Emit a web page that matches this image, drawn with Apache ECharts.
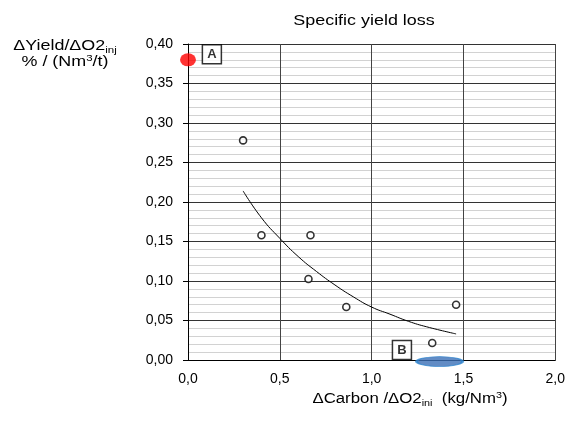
<!DOCTYPE html>
<html><head><meta charset="utf-8">
<script src="https://cdn.jsdelivr.net/npm/echarts@6/dist/echarts.min.js"></script>
<style>html,body{margin:0;padding:0;background:#fff}#c{width:568px;height:421px}</style>
</head><body><div id="c"></div>
<script>
// measured points (ΔCarbon/ΔO2, ΔYield/ΔO2)
const pointX = [0.30, 0.40, 0.667, 0.656, 0.862, 1.33, 1.46];
const pointY = [0.278, 0.158, 0.158, 0.1025, 0.067, 0.0215, 0.070];
// trend line
const trendX = [0.30, 0.40, 0.50, 0.60, 0.70, 0.80, 0.90, 1.00, 1.10, 1.20, 1.30, 1.46];
const trendY = [0.214, 0.180, 0.154, 0.131, 0.112, 0.095, 0.080, 0.067, 0.058, 0.049, 0.042, 0.033];
// reference markers
const refAX = [0.0], refAY = [0.38];
const refBX = [1.37], refBY = [-0.002];
// box labels
const labelNames = ['A', 'B'];
const labelX = [0.13, 1.165];
const labelY = [0.387, 0.0127];
const yTicks = {min: 0, max: 0.4, step: 0.05};
const xTicks = {min: 0, max: 2, step: 0.5};
const titleText = 'Specific yield loss';

const F = 'Liberation Sans, Arial, sans-serif';
const SX = 1.28;
const rich = {n: {fontFamily: F, fontSize: 14, fill: '#000'},
  s: {fontFamily: F, fontSize: 9, fill: '#000', padding: [9, 0, 0, 0]},
  p: {fontFamily: F, fontSize: 9, fill: '#000', padding: [0, 0, 7, 0]}};
const chart = echarts.init(document.getElementById('c'));
const zip = (a, b) => a.map((v, i) => [v, b[i]]);
chart.setOption({
  animation: false,
  backgroundColor: '#fff',
  grid: {left: 188, right: 11, top: 44, bottom: 61},
  xAxis: {type: 'value', min: xTicks.min, max: xTicks.max, interval: xTicks.step,
    axisLine: {show: true, lineStyle: {color: '#000', width: 1}},
    axisTick: {show: false},
    axisLabel: {fontFamily: F, fontSize: 14, color: '#000', margin: 12,
      formatter: v => v.toFixed(1).replace('.', ',')},
    splitLine: {show: true, lineStyle: {color: '#444', width: 1}}},
  yAxis: {type: 'value', min: yTicks.min, max: yTicks.max, interval: yTicks.step,
    axisLine: {show: true, lineStyle: {color: '#000', width: 1}},
    axisTick: {show: true, length: 5, lineStyle: {color: '#000'}},
    minorTick: {show: false, splitNumber: 5},
    minorSplitLine: {show: true, lineStyle: {color: '#d2d2d2', width: 1}},
    axisLabel: {fontFamily: F, fontSize: 14, color: '#000', margin: 15,
      formatter: v => v.toFixed(2).replace('.', ',')},
    splitLine: {show: true, lineStyle: {color: '#333', width: 1}}},
  graphic: [
    {type: 'text', x: 364, y: 21, scaleX: SX, style: {
      text: titleText, align: 'center', verticalAlign: 'middle',
      fontFamily: F, fontSize: 14, fill: '#000'}},
    {type: 'text', x: 65, y: 46, scaleX: SX, style: {
      text: '{n|ΔYield/ΔO2}{s|inj}', align: 'center', verticalAlign: 'middle',
      fontFamily: F, fontSize: 14, fill: '#000', rich: rich}},
    {type: 'text', x: 65, y: 62, scaleX: SX, style: {
      text: '{n|% / (Nm}{p|3}{n|/t)}', align: 'center', verticalAlign: 'middle',
      fontFamily: F, fontSize: 14, fill: '#000', rich: rich}},
    {type: 'text', x: 410, y: 399, scaleX: 1.2, style: {
      text: '{n|ΔCarbon /ΔO2}{s|ini}{n|  (kg/Nm}{p|3}{n|)}', align: 'center', verticalAlign: 'middle',
      fontFamily: F, fontSize: 14, fill: '#000', rich: rich}}
  ],
  series: [
    {type: 'line', data: zip(trendX, trendY), smooth: true, symbol: 'none',
      lineStyle: {color: '#000', width: 1}, z: 3},
    {type: 'scatter', data: zip(pointX, pointY), symbol: 'circle', symbolSize: 7,
      itemStyle: {color: '#fff', borderColor: '#000', borderWidth: 1.6}, z: 4},
    {type: 'scatter', data: zip(refAX, refAY), symbol: 'circle', symbolSize: [16, 13],
      clip: false, itemStyle: {color: '#ff0000'}, z: 5},
    {type: 'scatter', data: zip(refBX, refBY), symbol: 'circle', symbolSize: [46, 10],
      clip: false, itemStyle: {color: '#3b6fb6', borderColor: '#2e86d0', borderWidth: 1.5}, z: 5},
    {type: 'scatter', data: labelNames.map((n, i) => ({name: n, value: [labelX[i], labelY[i]]})),
      symbol: 'rect', symbolSize: [19, 19], clip: false,
      itemStyle: {color: '#fff', borderColor: '#000', borderWidth: 1.5},
      label: {show: true, position: 'inside', formatter: p => p.name,
        fontFamily: F, fontSize: 13, fontWeight: 'bold', color: '#000'}, z: 6}
  ]
});
</script></body></html>
